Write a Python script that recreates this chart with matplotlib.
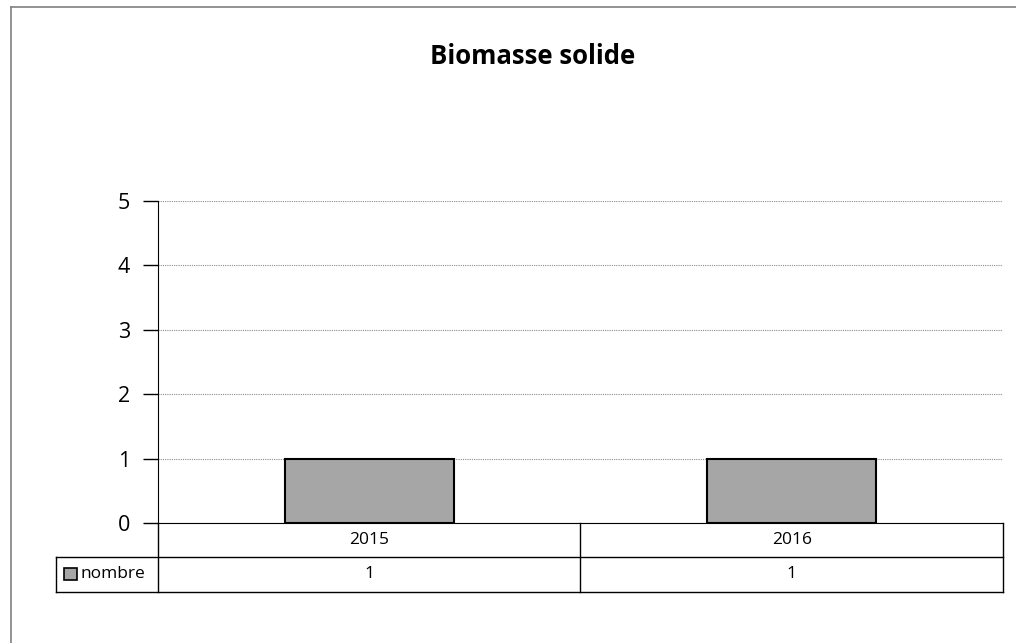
import matplotlib.pyplot as plt
from matplotlib.patches import Rectangle
from matplotlib.lines import Line2D

# data
years = ['2015', '2016']
nombre = [1, 1]
series_name = 'nombre'
title = 'Biomasse solide'

W, H = 1016, 643
plt.rcParams['font.family'] = ['Open Sans', 'DejaVu Sans']

fig = plt.figure(figsize=(W / 100, H / 100), dpi=100)

def fx(px):
    return px / W

def fy(py):
    return 1 - py / H

# plot area in pixels
left, right, top, bottom = 158, 1003, 201, 523
ax = fig.add_axes([fx(left), fy(bottom), fx(right - left), (bottom - top) / H])

x = list(range(len(years)))
ax.bar(x, nombre, width=0.40, color='#A6A6A6', edgecolor='black', linewidth=1.5, zorder=3)
ax.set_xlim(-0.5, len(years) - 0.5)
ax.set_ylim(0, 5)
ax.set_yticks(range(0, 6))
ax.set_yticklabels([str(v) for v in range(0, 6)], fontsize=15.5)
ax.set_xticks([])
ax.grid(axis='y', color='#8c8c8c', linestyle=(0, (1, 1)), linewidth=0.8, zorder=0)
for s in ['top', 'right']:
    ax.spines[s].set_visible(False)
ax.spines['left'].set_color('black')
ax.spines['bottom'].set_color('black')
ax.tick_params(axis='y', length=11, width=1, color='black', pad=9)

fig.suptitle(title, x=fx(533), y=fy(56), va='center', fontsize=18.5, fontweight='bold')

# data table below the axis
r0, r1, r2 = 523, 557, 592
tleft, mid = 56, 580
lines = [
    ((tleft, right), (r1, r1)),
    ((tleft, right), (r2, r2)),
    ((tleft, tleft), (r1, r2)),
    ((left, left), (r0, r2)),
    ((mid, mid), (r0, r2)),
    ((right, right), (r0, r2)),
]
for xs, ys in lines:
    fig.add_artist(Line2D([fx(v) for v in xs], [fy(v) for v in ys],
                          color='black', linewidth=1, transform=fig.transFigure))

col_w = (right - left) / len(years)
for i, (yr, v) in enumerate(zip(years, nombre)):
    cx = left + col_w * (i + 0.5)
    fig.text(fx(cx), fy((r0 + r1) / 2), yr, ha='center', va='center', fontsize=12.5)
    fig.text(fx(cx), fy((r1 + r2) / 2), str(v), ha='center', va='center', fontsize=12.5)

fig.add_artist(Rectangle((fx(64), fy(580)), fx(13), 12 / H, facecolor='#A6A6A6',
                         edgecolor='black', linewidth=1.2, transform=fig.transFigure))
fig.text(fx(80), fy((r1 + r2) / 2), series_name, ha='left', va='center', fontsize=12.5)

# chart frame
fig.add_artist(Line2D([fx(11), fx(11)], [fy(7), 0], color='#808080', linewidth=1.2,
                      transform=fig.transFigure))
fig.add_artist(Line2D([fx(11), 1], [fy(7), fy(7)], color='#808080', linewidth=1.2,
                      transform=fig.transFigure))

fig.savefig('out.png', dpi=100)
